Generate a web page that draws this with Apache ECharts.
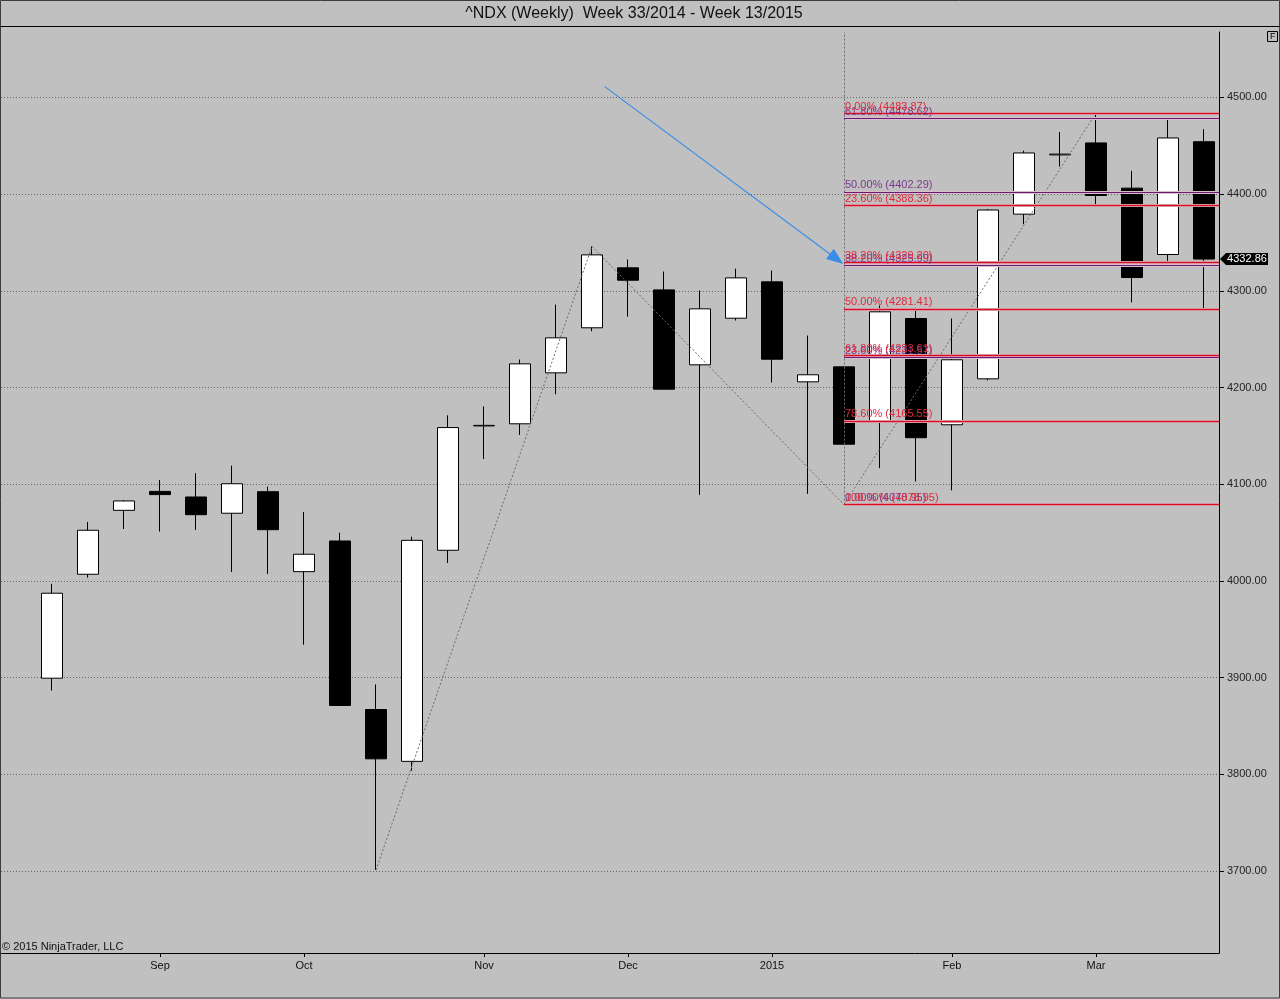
<!DOCTYPE html>
<html>
<head>
<meta charset="utf-8">
<script src="https://cdn.jsdelivr.net/npm/echarts@6/dist/echarts.min.js"></script>
<style>
html,body{margin:0;padding:0;background:#c0c0c0;}
#chart{width:1280px;height:999px;}
</style>
</head>
<body>
<div id="chart"></div>
<script>
// ---- data ----
const weeks = ['2014-08-11','2014-08-18','2014-08-25','2014-09-01','2014-09-08','2014-09-15','2014-09-22','2014-09-29',
  '2014-10-06','2014-10-13','2014-10-20','2014-10-27','2014-11-03','2014-11-10','2014-11-17','2014-11-24',
  '2014-12-01','2014-12-08','2014-12-15','2014-12-22','2014-12-29','2015-01-05','2015-01-12','2015-01-19',
  '2015-01-26','2015-02-02','2015-02-09','2015-02-16','2015-02-23','2015-03-02','2015-03-09','2015-03-16','2015-03-23'];
const opens  = [3899.4,4006.9,4073.0,4092.6,4086.8,4070.0,4092.3,4009.6,4041.3,3867.0,3813.4,4031.7,4160.3,4162.5,4215.2,4261.8,
  4323.8,4301.0,4223.5,4271.7,4309.3,4205.9,4221.4,4164.6,4271.4,4161.5,4209.0,4379.3,4440.6,4453.0,4406.2,4337.6,4454.2];
const closes = [3987.3,4052.4,4082.7,4089.3,4068.5,4100.5,4053.0,4027.6,3871.2,3816.0,4042.0,4158.6,4160.9,4224.5,4251.4,4337.2,
  4311.0,4198.3,4281.4,4313.4,4229.3,4213.2,4141.4,4278.3,4148.1,4228.7,4383.6,4442.6,4441.4,4398.6,4313.8,4458.1,4332.86];
const lows   = [3886.6,4003.4,4053.7,4051.0,4052.7,4009.3,4007.2,3934.0,3871.2,3701.0,3803.8,4018.6,4126.0,4151.0,4193.1,4258.2,
  4273.4,4198.0,4089.0,4269.3,4205.2,4090.0,4141.4,4116.6,4102.9,4093.6,4207.4,4369.0,4428.5,4389.3,4288.0,4325.6,4280.3];
const highs  = [3996.9,4061.0,4083.7,4104.4,4111.4,4119.2,4097.5,4071.3,4049.9,3893.0,4045.8,4171.3,4180.5,4229.0,4285.8,4346.0,
  4332.4,4320.0,4300.3,4323.0,4321.0,4253.8,4221.4,4284.8,4282.4,4271.4,4384.5,4445.0,4464.4,4483.87,4424.1,4478.6,4467.2];

const monthTickIdx = [3,7,12,16,20,25,29];
const monthTickLabels = ['Sep','Oct','Nov','Dec','2015','Feb','Mar'];
const priceTicks = [3700,3800,3900,4000,4100,4200,4300,4400,4500];

const swingIdx = [9,15,22,29];
const swingVal = [3701.0,4346.0,4078.95,4483.87];

const fibAnchorIdx = 22;
const fibRedPct = ['0.00%','23.60%','38.20%','50.00%','61.80%','78.60%','100.00%'];
const fibRedVal = [4483.87,4388.36,4329.20,4281.41,4233.61,4165.55,4078.95];
const fibPurPct = ['0.00%','23.60%','38.20%','50.00%','61.80%'];
const fibPurVal = [4078.95,4231.57,4325.99,4402.29,4478.62];

const arrowFrom = [15.353,4511.2];
const arrowTo   = [21.797,4333.0];

const lastClose = 4332.86;

// axis extents
const xMin = -1.4167, xMax = 32.4167;
const yMin = 3615.2, yMax = 4567.7;

const FONT = '"Liberation Sans", Arial, sans-serif';
const RED = '#dc0a1e', RED_TXT = '#e2283a', PUR = '#6a1a74', PUR_TXT = '#7a3a8e', HALO = '#d8bfcb';

const candleData = weeks.map((w,i)=>[i, opens[i], closes[i], lows[i], highs[i]]);

function fibLines(pcts, vals, color, txtColor, withLabel, width){
  return vals.map((v,i)=>[
    {coord:[fibAnchorIdx, v],
     lineStyle:{color:color, width:width, type:'solid'},
     label: withLabel ? {show:true, position:'insideStartTop', distance:[1,1],
        formatter: pcts[i] + ' (' + v.toFixed(2) + ')', color: txtColor, fontSize:11, fontFamily:FONT} : {show:false}},
    {coord:[xMax, v]}
  ]);
}

const chart = echarts.init(document.getElementById('chart'), null, {renderer:'canvas'});
chart.setOption({
  animation:false,
  backgroundColor:'#c0c0c0',
  textStyle:{fontFamily:FONT},
  grid:{left:1, right:61, top:32, bottom:46, show:false},
  xAxis:{
    type:'value', min:xMin, max:xMax,
    axisLine:{show:true, onZero:false, lineStyle:{color:'#000', width:1}},
    axisTick:{show:true, length:4, customValues:monthTickIdx, lineStyle:{color:'#000'}},
    axisLabel:{show:true, customValues:monthTickIdx, margin:7, color:'#111', fontSize:11, fontFamily:FONT,
      formatter:(v)=>{const k = monthTickIdx.indexOf(Math.round(v)); return k>=0 ? monthTickLabels[k] : '';}},
    splitLine:{show:false}
  },
  yAxis:{
    type:'value', position:'right', min:yMin, max:yMax, minInterval:100, maxInterval:100,
    axisLine:{show:true, onZero:false, lineStyle:{color:'#000', width:1}},
    axisTick:{show:true, length:5, customValues:priceTicks, lineStyle:{color:'#000'}},
    axisLabel:{show:true, customValues:priceTicks, margin:8, color:'#222', fontSize:11, fontFamily:FONT,
      formatter:(v)=>v.toFixed(2)},
    splitLine:{show:true, lineStyle:{color:'#666666', width:1, type:[1,2]}}
  },
  series:[
    {
      type:'candlestick', z:2, barWidth:22,
      encode:{x:0, y:[1,2,3,4]},
      data:candleData,
      itemStyle:{color:'#ffffff', color0:'#000000', borderColor:'#000000', borderColor0:'#000000', borderWidth:1},
      markPoint:{
        silent:true,
        symbol:'path://M0,6 L6,0 L48,0 L48,12 L6,12 Z',
        symbolSize:[48,12], symbolOffset:[25,0],
        itemStyle:{color:'#000'},
        label:{show:true, color:'#fff', fontSize:11, fontFamily:FONT, offset:[3,0], formatter:()=>lastClose.toFixed(2)},
        data:[{coord:[xMax, lastClose], value:lastClose}]
      }
    },
    {
      name:'halo', type:'line', z:3, data:[], symbol:'none',
      markLine:{silent:true, symbol:['none','none'], animation:false,
        data: fibLines(fibPurPct, fibPurVal, HALO, PUR_TXT, false, 3).concat(fibLines(fibRedPct, fibRedVal, HALO, RED_TXT, false, 3))}
    },
    {
      name:'zigzag', type:'line', z:4, symbol:'none',
      data: swingIdx.map((x,i)=>[x, swingVal[i]]),
      lineStyle:{color:'#6a6a6a', width:1, type:[2,2]},
      markLine:{silent:true, symbol:['none','none'], animation:false,
        data:[
          [{coord:[fibAnchorIdx, fibRedVal[fibRedVal.length-1]], lineStyle:{color:'#6a6a6a', width:1, type:[2,2]}, label:{show:false}},
           {coord:[fibAnchorIdx, yMax]}]
        ]}
    },
    {
      name:'fibPurple', type:'line', z:5, data:[], symbol:'none',
      markLine:{silent:true, symbol:['none','none'], animation:false,
        data: fibLines(fibPurPct, fibPurVal, PUR, PUR_TXT, true, 1.2)}
    },
    {
      name:'fibRed', type:'line', z:6, data:[], symbol:'none',
      markLine:{silent:true, symbol:['none','none'], animation:false,
        data: fibLines(fibRedPct, fibRedVal, RED, RED_TXT, true, 1.4)}
    },
    {
      name:'arrow', type:'line', z:7, data:[], symbol:'none',
      markLine:{silent:true, animation:false, symbol:['none','triangle'], symbolSize:[13,17],
        data:[[{coord:arrowFrom, lineStyle:{color:'#3a8ee8', width:1.2, type:'solid'}, label:{show:false}}, {coord:arrowTo}]]}
    }
  ],
  graphic:[
    {type:'rect', silent:true, z:100, shape:{x:0.5, y:0.5, width:1279, height:997.5}, style:{fill:'none', stroke:'#3c3c3c', lineWidth:1}},
    {type:'line', silent:true, z:100, shape:{x1:0, y1:26.5, x2:1280, y2:26.5}, style:{stroke:'#000', lineWidth:1}},
    {type:'text', silent:true, z:100, x:634, y:13.5, style:{text:'^NDX (Weekly)  Week 33/2014 - Week 13/2015', fill:'#111',
      font:'16px ' + FONT, textAlign:'center', textVerticalAlign:'middle'}},
    {type:'text', silent:true, z:100, x:2, y:946.5, style:{text:'\u00a9 2015 NinjaTrader, LLC', fill:'#111',
      font:'11px ' + FONT, textAlign:'left', textVerticalAlign:'middle'}},
    {type:'rect', silent:true, z:100, shape:{x:1267.5, y:31.5, width:10, height:10}, style:{fill:'none', stroke:'#000', lineWidth:1}},
    {type:'text', silent:true, z:100, x:1272.8, y:37, style:{text:'F', fill:'#000', font:'9px ' + FONT, textAlign:'center', textVerticalAlign:'middle'}}
  ]
});
</script>
</body>
</html>
